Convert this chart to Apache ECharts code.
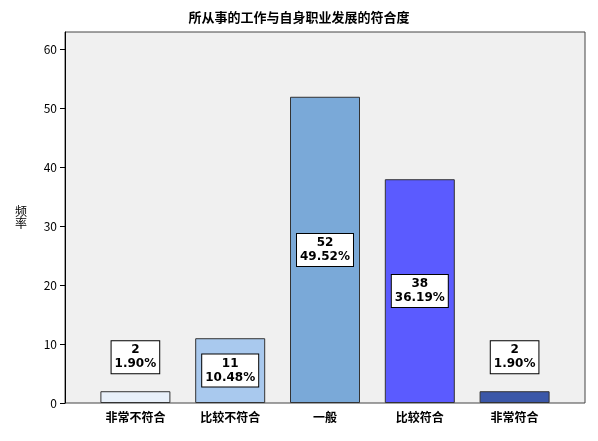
<!DOCTYPE html>
<html><head><meta charset="utf-8">
<script src="https://cdn.jsdelivr.net/npm/echarts@6/dist/echarts.min.js"></script>
<style>body{margin:0}#c{width:598px;height:441px}</style></head>
<body><div id="c"></div>
<script>
var categories = ['非常不符合', '比较不符合', '一般', '比较符合', '非常符合'];
var counts = [2, 11, 52, 38, 2];
var percents = ['1.90%', '10.48%', '49.52%', '36.19%', '1.90%'];
var colors = ['#e8f0fa', '#a9c9ee', '#7aa9d8', '#5b5bff', '#3b57a8'];

var chart = echarts.init(document.getElementById('c'));
var font = '"Noto Sans CJK SC", sans-serif';
var data = counts.map(function (v, i) {
  var small = v < 5;
  return {
    value: v,
    itemStyle: { color: colors[i] },
    label: {
      position: small ? 'top' : 'inside',
      distance: small ? 18 : 5
    }
  };
});
chart.setOption({
  title: { text: '所从事的工作与自身职业发展的符合度', left: 'center', top: 6,
    textStyle: { fontSize: 13, fontWeight: 'bold', color: '#000', fontFamily: font } },
  graphic: [{ type: 'rect', z: -10, shape: { x: 65, y: 32, width: 520, height: 371 },
    style: { fill: '#f0f0f0', stroke: '#444', lineWidth: 1 } }],
  grid: { left: 88, right: 36, top: 32, bottom: 38 },
  xAxis: { type: 'category', data: categories,
    axisLine: { show: false }, axisTick: { show: false },
    axisLabel: { color: '#000', fontSize: 12, fontWeight: 'bold', fontFamily: font } },
  yAxis: { type: 'value', min: 0, max: 63, interval: 10, offset: 23, name: '频\n率', nameLocation: 'middle', nameGap: 38, nameRotate: 0,
    nameTextStyle: { color: '#000', fontSize: 12, fontFamily: font },
    axisLine: { show: true, lineStyle: { color: '#000' } }, axisTick: { show: true },
    splitLine: { show: false },
    axisLabel: { color: '#000', fontSize: 12, showMaxLabel: false, fontFamily: font } },
  series: [{
    type: 'bar', data: data, barWidth: 70,
    itemStyle: { borderColor: '#333', borderWidth: 1 },
    label: { show: true, color: '#000', fontSize: 12, fontWeight: 'bold', fontFamily: 'DejaVu Sans',
      backgroundColor: '#fff', borderColor: '#000', borderWidth: 1, padding: [2, 3], lineHeight: 14,
      formatter: function (p) { return p.value + '\n' + percents[p.dataIndex]; } }
  }]
});
</script></body></html>
